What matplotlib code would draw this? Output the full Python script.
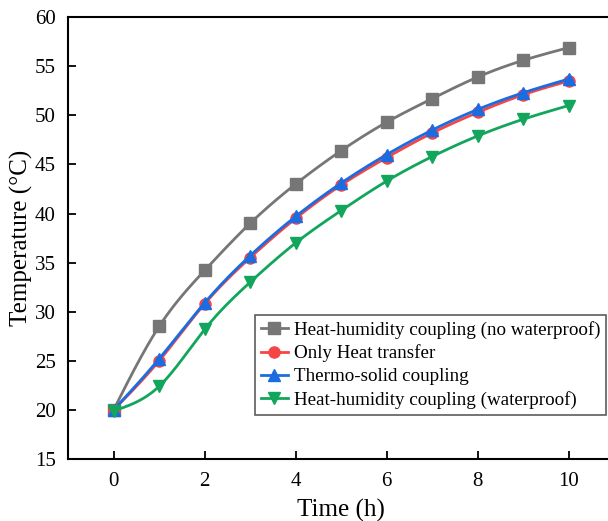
import numpy as np
import matplotlib.pyplot as plt

plt.rcParams['font.family'] = 'Liberation Serif'

# time, h
time_h = [0, 1, 2, 3, 4, 5, 6, 7, 8, 9, 10]

# temperatures, degC
temp_no_waterproof = [20.0, 28.5, 34.2, 39.0, 43.0, 46.4, 49.3, 51.7, 53.9, 55.6, 56.9]
temp_heat_only = [20.0, 25.0, 30.8, 35.5, 39.5, 42.9, 45.7, 48.2, 50.3, 52.1, 53.5]
temp_thermo_solid = [20.0, 25.2, 30.9, 35.7, 39.7, 43.1, 46.0, 48.5, 50.6, 52.3, 53.7]
temp_waterproof = [19.9, 22.4, 28.2, 33.0, 37.0, 40.3, 43.3, 45.8, 47.9, 49.6, 51.0]

labels = ['Heat-humidity coupling (no waterproof)',
          'Only Heat transfer',
          'Thermo-solid coupling',
          'Heat-humidity coupling (waterproof)']
colors = ['#767676', '#F54545', '#1B6CE0', '#12A65C']
markers = ['s', 'o', '^', 'v']


def natural_spline(x, y, n=300):
    # natural cubic spline through the points, for the smooth connecting line
    x = np.asarray(x, float)
    y = np.asarray(y, float)
    npts = len(x)
    h = np.diff(x)
    A = np.zeros((npts, npts))
    b = np.zeros(npts)
    A[0, 0] = 1
    A[-1, -1] = 1
    for i in range(1, npts - 1):
        A[i, i - 1] = h[i - 1]
        A[i, i] = 2 * (h[i - 1] + h[i])
        A[i, i + 1] = h[i]
        b[i] = 3 * ((y[i + 1] - y[i]) / h[i] - (y[i] - y[i - 1]) / h[i - 1])
    c = np.linalg.solve(A, b)
    xs = np.linspace(x[0], x[-1], n)
    idx = np.clip(np.searchsorted(x, xs) - 1, 0, npts - 2)
    dx = xs - x[idx]
    bb = (y[idx + 1] - y[idx]) / h[idx] - h[idx] * (2 * c[idx] + c[idx + 1]) / 3
    dd = (c[idx + 1] - c[idx]) / (3 * h[idx])
    ys = y[idx] + bb * dx + c[idx] * dx**2 + dd * dx**3
    return xs, ys


fig = plt.figure(figsize=(6.08, 5.21), dpi=100)
ax = fig.add_axes([0.112, 0.119, 0.898, 0.848])

series = [temp_no_waterproof, temp_heat_only, temp_thermo_solid, temp_waterproof]
for temps, lab, col, mk in zip(series, labels, colors, markers):
    xs, ys = natural_spline(time_h, temps)
    ax.plot(xs, ys, color=col, lw=2)
    ax.plot(time_h, temps, linestyle='None', marker=mk, color=col, ms=8)
    ax.plot([], [], color=col, lw=2, marker=mk, ms=8, label=lab)

ax.set_xlim(-1, 11)
ax.set_ylim(15, 60)
ax.set_xticks([0, 2, 4, 6, 8, 10])
ax.set_yticks(np.arange(15, 61, 5))
ax.tick_params(direction='in', length=6, width=1.3, labelsize=15, pad=9,
               top=False, right=False)
for sp in ax.spines.values():
    sp.set_linewidth(1.5)

ax.set_xlabel('Time (h)', fontsize=18, labelpad=6)
ax.set_ylabel('Temperature (°C)', fontsize=18, labelpad=1)

leg = ax.legend(loc='upper left', bbox_to_anchor=(0.342, 0.326), fontsize=13.7,
                frameon=True, fancybox=False, edgecolor='#333333',
                handlelength=1.45, handletextpad=0.3, borderpad=0.3,
                labelspacing=0.3, borderaxespad=0)
leg.get_frame().set_linewidth(1.2)

fig.savefig('out.png', dpi=100)
